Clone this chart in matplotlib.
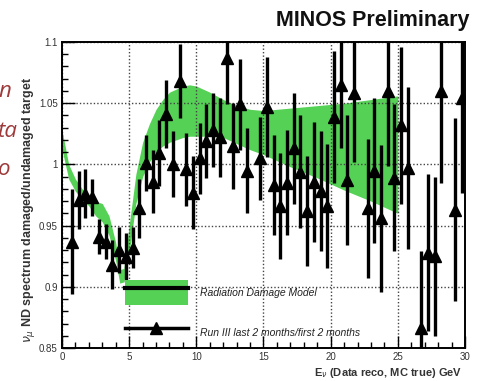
import matplotlib.pyplot as plt
from matplotlib.patches import Patch
from matplotlib.lines import Line2D
from matplotlib.ticker import MultipleLocator

plt.rcParams['font.family'] = ['Liberation Sans', 'DejaVu Sans']

# measured ratio, Run III last 2 months / first 2 months (0.5 GeV bins)
energy = [0.75, 1.25, 1.75, 2.25, 2.75, 3.25, 3.75, 4.25, 4.75, 5.25,
          5.75, 6.25, 6.75, 7.25, 7.75, 8.25, 8.75, 9.25, 9.75, 10.25,
          10.75, 11.25, 11.75, 12.25, 12.75, 13.25, 13.75, 14.75, 15.25, 15.75,
          16.25, 16.75, 17.25, 17.75, 18.25, 18.75, 19.25, 19.75, 20.25, 20.75,
          21.25, 21.75, 22.75, 23.25, 23.75, 24.25, 24.75, 25.25, 25.75, 26.75,
          27.25, 27.75, 28.25, 29.25, 29.75]
ratio = [0.937, 0.971, 0.976, 0.973, 0.941, 0.937, 0.918, 0.930, 0.924, 0.932,
         0.964, 1.001, 0.986, 1.009, 1.041, 1.000, 1.068, 0.996, 0.977, 1.005,
         1.019, 1.028, 1.022, 1.087, 1.015, 1.049, 0.995, 1.005, 1.047, 0.983,
         0.966, 0.985, 1.013, 0.994, 0.962, 0.986, 0.978, 0.966, 1.039, 1.065,
         0.987, 1.058, 0.964, 0.995, 0.956, 1.060, 0.989, 1.032, 0.997, 0.866,
         0.928, 0.925, 1.060, 0.963, 1.054]
ratio_err = [0.043, 0.024, 0.020, 0.015, 0.014, 0.014, 0.020, 0.019, 0.020, 0.017,
             0.024, 0.023, 0.026, 0.027, 0.028, 0.027, 0.030, 0.030, 0.030, 0.029,
             0.030, 0.030, 0.032, 0.038, 0.035, 0.037, 0.035, 0.034, 0.041, 0.041,
             0.043, 0.043, 0.045, 0.046, 0.045, 0.049, 0.049, 0.051, 0.054, 0.052,
             0.053, 0.056, 0.057, 0.059, 0.060, 0.061, 0.060, 0.064, 0.066, 0.063,
             0.064, 0.065, 0.075, 0.075, 0.077]

# radiation damage model, error band edges
model_e = [0, 0.5, 1, 1.5, 2, 2.5, 3, 3.5, 4, 4.3, 4.6, 5, 5.5, 6, 6.5, 7, 7.5,
           8, 9, 9.5, 10, 11, 12, 13, 14, 15, 17, 19, 21, 23, 25]
model_hi = [1.028, 1.000, 0.988, 0.980, 0.975, 0.970, 0.968, 0.958, 0.936, 0.914,
            0.915, 0.950, 0.992, 1.018, 1.033, 1.045, 1.053, 1.059, 1.064, 1.065,
            1.064, 1.059, 1.053, 1.048, 1.045, 1.044, 1.046, 1.048, 1.050, 1.053,
            1.056]
model_lo = [1.012, 0.988, 0.978, 0.972, 0.966, 0.958, 0.953, 0.942, 0.921, 0.903,
            0.904, 0.928, 0.968, 0.990, 1.002, 1.010, 1.015, 1.018, 1.022, 1.023,
            1.023, 1.023, 1.022, 1.017, 1.012, 1.008, 0.998, 0.989, 0.979, 0.970,
            0.960]

green = '#55d155'

fig = plt.figure(figsize=(4.82, 3.81), dpi=100)
ax = fig.add_axes([0.1286, 0.0866, 0.8361, 0.8032])

ax.fill_between(model_e, model_lo, model_hi, color=green, lw=0, zorder=1)
ax.errorbar(energy, ratio, yerr=ratio_err, fmt='^', color='black', ms=8,
            elinewidth=2.4, capsize=0, zorder=3)

ax.set_xlim(0, 30)
ax.set_ylim(0.85, 1.1)
ax.set_xticks([0, 5, 10, 15, 20, 25, 30])
ax.set_yticks([0.85, 0.9, 0.95, 1.0, 1.05, 1.1])
ax.set_yticklabels(['0.85', '0.9', '0.95', '1', '1.05', '1.1'])
ax.xaxis.set_minor_locator(MultipleLocator(1))
ax.yaxis.set_minor_locator(MultipleLocator(0.01))
ax.tick_params(which='both', direction='in', top=False, right=False,
               labelsize=7, labelcolor='#333333', width=1)
ax.tick_params(which='major', length=9, pad=3)
ax.tick_params(which='minor', length=4.5)
ax.grid(True, which='major', ls=(0, (1, 1.5)), color='#444444', lw=1.0)
for s in ax.spines.values():
    s.set_linewidth(1.4)

ax.set_ylabel(r'$\nu_\mu$ ND spectrum damaged/undamaged target',
              fontsize=9, fontweight='bold', color='#333333')
ax.yaxis.set_label_coords(-0.063, 0.45)
ax.set_xlabel(r'E$_\nu$ (Data reco, MC true) GeV', fontsize=8,
              fontweight='bold', color='#333333', ha='right')
ax.xaxis.set_label_coords(0.993, -0.06)

model_handle = (Patch(facecolor=green, edgecolor='none'),
                Line2D([], [], color='black', lw=3))
data_handle = Line2D([], [], color='black', lw=2.5, marker='^', markersize=9)
ax.legend([model_handle, data_handle],
          ['Radiation Damage Model', 'Run III last 2 months/first 2 months'],
          loc='upper left', bbox_to_anchor=(0.156, 0.222), frameon=False,
          handlelength=6.05, handleheight=3.32, handletextpad=1.15,
          labelspacing=1.5, borderpad=0, borderaxespad=0,
          prop=dict(style='italic', size=7.5), labelcolor='#222222')

fig.text(0.975, 0.945, 'MINOS Preliminary', ha='right', va='center',
         fontsize=15.5, fontweight='bold', color='#111111')

# slide text running in from the left
for s, y in [('n', 0.76), ('ta', 0.655), ('o', 0.555)]:
    fig.text(-0.004, y, s, ha='left', va='center', fontsize=16,
             style='italic', color='#9e3a3a', family=['Open Sans', 'DejaVu Sans'])

fig.savefig('out.png', dpi=100)
